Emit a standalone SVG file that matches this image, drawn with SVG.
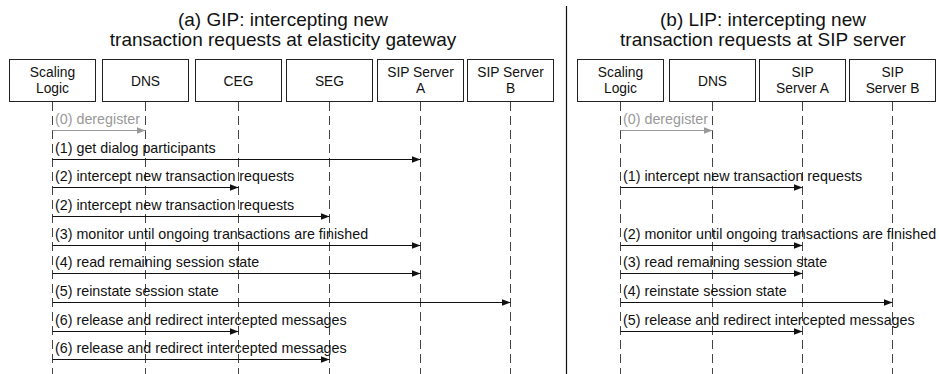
<svg xmlns="http://www.w3.org/2000/svg" width="939" height="374" viewBox="0 0 939 374">
<style>
  .box{fill:#fff;stroke:#222;stroke-width:1}
  .life{stroke:#444;stroke-width:1;stroke-dasharray:9,5;fill:none}
  .lbl{font-family:"Liberation Sans",Arial,sans-serif;font-size:13.8px;fill:#111;text-anchor:middle}
  .title{font-family:"Liberation Sans",Arial,sans-serif;font-size:19px;fill:#111;text-anchor:middle}
  .msg{font-family:"Liberation Sans",Arial,sans-serif;font-size:14.3px;fill:#111}
  .msg.g{fill:#999}
  .arr{stroke:#111;stroke-width:1;fill:none;marker-end:url(#ah)}
  .arr.g{stroke:#999;marker-end:url(#ahg)}
</style>
<defs>
  <marker id="ah" markerUnits="userSpaceOnUse" markerWidth="10" markerHeight="8" refX="9" refY="3.5" orient="auto">
    <path d="M0,0 L9,3.5 L0,7 z" fill="#111"/>
  </marker>
  <marker id="ahg" markerUnits="userSpaceOnUse" markerWidth="10" markerHeight="8" refX="9" refY="3.5" orient="auto">
    <path d="M0,0 L9,3.5 L0,7 z" fill="#999"/>
  </marker>
</defs>
<rect width="939" height="374" fill="#fff"/>

<text class="title" x="283" y="26">(a) GIP: intercepting new</text>
<text class="title" x="283" y="46">transaction requests at elasticity gateway</text>
<text class="title" x="763" y="26">(b) LIP: intercepting new</text>
<text class="title" x="763" y="46">transaction requests at SIP server</text>
<line x1="566.5" y1="6" x2="566.5" y2="374" stroke="#111" stroke-width="1.2"/>

<!-- Left panel nodes -->
<g id="a-scaling-logic">
  <rect class="box" x="9.5" y="59.5" width="86" height="42"/>
  <text class="lbl" x="52.5" y="76.5">Scaling</text>
  <text class="lbl" x="52.5" y="93">Logic</text>
  <line class="life" x1="52.5" y1="102" x2="52.5" y2="374"/>
</g>
<g id="a-dns">
  <rect class="box" x="102.5" y="59.5" width="86" height="42"/>
  <text class="lbl" x="145.5" y="85.5">DNS</text>
  <line class="life" x1="145.5" y1="102" x2="145.5" y2="374"/>
</g>
<g id="a-ceg">
  <rect class="box" x="195.5" y="59.5" width="86" height="42"/>
  <text class="lbl" x="238.5" y="85.5">CEG</text>
  <line class="life" x1="238.5" y1="102" x2="238.5" y2="374"/>
</g>
<g id="a-seg">
  <rect class="box" x="286.5" y="59.5" width="86" height="42"/>
  <text class="lbl" x="329.5" y="85.5">SEG</text>
  <line class="life" x1="329.5" y1="102" x2="329.5" y2="374"/>
</g>
<g id="a-sip-a">
  <rect class="box" x="377.5" y="59.5" width="86" height="42"/>
  <text class="lbl" x="420.5" y="76.5">SIP Server</text>
  <text class="lbl" x="420.5" y="93">A</text>
  <line class="life" x1="420.5" y1="102" x2="420.5" y2="374"/>
</g>
<g id="a-sip-b">
  <rect class="box" x="467.5" y="59.5" width="86" height="42"/>
  <text class="lbl" x="510.5" y="76.5">SIP Server</text>
  <text class="lbl" x="510.5" y="93">B</text>
  <line class="life" x1="510.5" y1="102" x2="510.5" y2="374"/>
</g>

<!-- Right panel nodes -->
<g id="b-scaling-logic">
  <rect class="box" x="577.5" y="59.5" width="86" height="42"/>
  <text class="lbl" x="620.5" y="76.5">Scaling</text>
  <text class="lbl" x="620.5" y="93">Logic</text>
  <line class="life" x1="620.5" y1="102" x2="620.5" y2="374"/>
</g>
<g id="b-dns">
  <rect class="box" x="669.5" y="59.5" width="86" height="42"/>
  <text class="lbl" x="712.5" y="85.5">DNS</text>
  <line class="life" x1="712.5" y1="102" x2="712.5" y2="374"/>
</g>
<g id="b-sip-a">
  <rect class="box" x="759.5" y="59.5" width="86" height="42"/>
  <text class="lbl" x="802.5" y="76.5">SIP</text>
  <text class="lbl" x="802.5" y="93">Server A</text>
  <line class="life" x1="802.5" y1="102" x2="802.5" y2="374"/>
</g>
<g id="b-sip-b">
  <rect class="box" x="849.5" y="59.5" width="86" height="42"/>
  <text class="lbl" x="892.5" y="76.5">SIP</text>
  <text class="lbl" x="892.5" y="93">Server B</text>
  <line class="life" x1="892.5" y1="102" x2="892.5" y2="374"/>
</g>

<!-- Connectors -->
<g id="connectors">
  <line class="arr g" x1="52.5" y1="130.5" x2="145.5" y2="130.5"/>
  <line class="arr" x1="52.5" y1="159.5" x2="420.5" y2="159.5"/>
  <line class="arr" x1="52.5" y1="187.5" x2="238.5" y2="187.5"/>
  <line class="arr" x1="52.5" y1="216.5" x2="329.5" y2="216.5"/>
  <line class="arr" x1="52.5" y1="245.5" x2="420.5" y2="245.5"/>
  <line class="arr" x1="52.5" y1="273.5" x2="420.5" y2="273.5"/>
  <line class="arr" x1="52.5" y1="302.5" x2="510.5" y2="302.5"/>
  <line class="arr" x1="52.5" y1="331.5" x2="238.5" y2="331.5"/>
  <line class="arr" x1="52.5" y1="359.5" x2="329.5" y2="359.5"/>

  <line class="arr g" x1="620.5" y1="130.5" x2="712.5" y2="130.5"/>
  <line class="arr" x1="620.5" y1="187.5" x2="802.5" y2="187.5"/>
  <line class="arr" x1="620.5" y1="245.5" x2="802.5" y2="245.5"/>
  <line class="arr" x1="620.5" y1="273.5" x2="802.5" y2="273.5"/>
  <line class="arr" x1="620.5" y1="302.5" x2="892.5" y2="302.5"/>
  <line class="arr" x1="620.5" y1="331.5" x2="802.5" y2="331.5"/>

  <text class="msg g" x="55" y="124">(0) deregister</text>
  <text class="msg" x="55" y="153">(1) get dialog participants</text>
  <text class="msg" x="55" y="181">(2) intercept new transaction requests</text>
  <text class="msg" x="55" y="210">(2) intercept new transaction requests</text>
  <text class="msg" x="55" y="239">(3) monitor until ongoing transactions are finished</text>
  <text class="msg" x="55" y="267">(4) read remaining session state</text>
  <text class="msg" x="55" y="296">(5) reinstate session state</text>
  <text class="msg" x="55" y="325">(6) release and redirect intercepted messages</text>
  <text class="msg" x="55" y="353">(6) release and redirect intercepted messages</text>

  <text class="msg g" x="623" y="124">(0) deregister</text>
  <text class="msg" x="623" y="181">(1) intercept new transaction requests</text>
  <text class="msg" x="623" y="239">(2) monitor until ongoing transactions are finished</text>
  <text class="msg" x="623" y="267">(3) read remaining session state</text>
  <text class="msg" x="623" y="296">(4) reinstate session state</text>
  <text class="msg" x="623" y="325">(5) release and redirect intercepted messages</text>
</g>
</svg>
